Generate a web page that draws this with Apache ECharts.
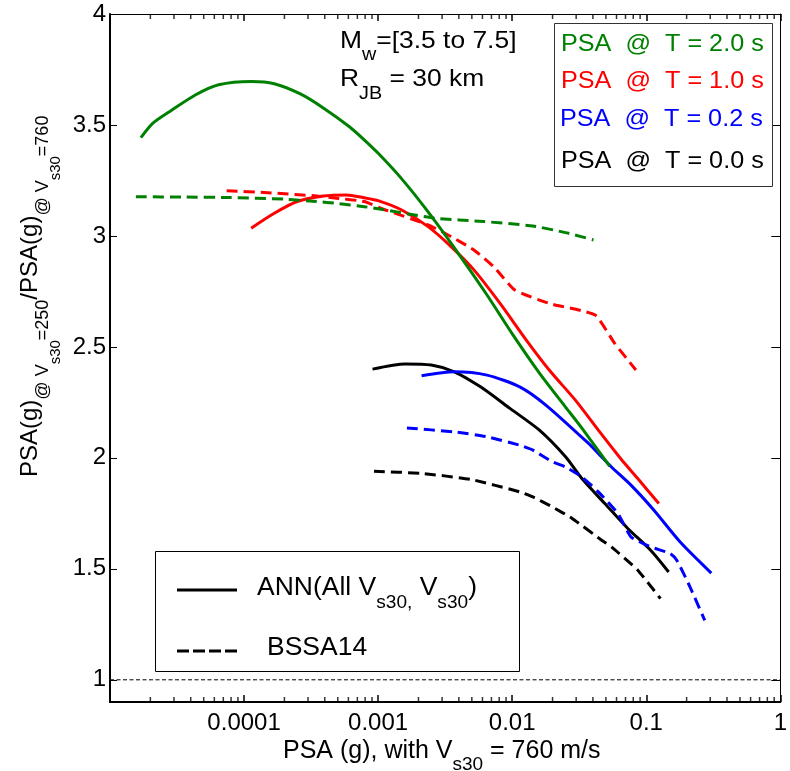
<!DOCTYPE html>
<html><head><meta charset="utf-8">
<script src="https://cdn.jsdelivr.net/npm/echarts@6/dist/echarts.min.js"></script>
<style>html,body{margin:0;padding:0;background:#fff}#c{width:790px;height:771px}</style>
</head><body><div id="c"></div>
<script>
// ---------- data ----------
const xTickValues = [1e-5, 1e-4, 1e-3, 1e-2, 1e-1, 1];
const xTickLabels = ['', '0.0001', '0.001', '0.01', '0.1', '1'];
const xMinorTicks = [2e-5,3e-5,4e-5,5e-5,6e-5,7e-5,8e-5,9e-5,
  2e-4,3e-4,4e-4,5e-4,6e-4,7e-4,8e-4,9e-4,
  2e-3,3e-3,4e-3,5e-3,6e-3,7e-3,8e-3,9e-3,
  0.02,0.03,0.04,0.05,0.06,0.07,0.08,0.09,
  0.2,0.3,0.4,0.5,0.6,0.7,0.8,0.9];
const yTicks = [1, 1.5, 2, 2.5, 3, 3.5, 4];
const refLine = [[1e-5, 1], [1, 1]];

// ANN (solid)
const ann_T20 = [[1.70e-5,3.443],[2.09e-5,3.508],[2.86e-5,3.565],[4.36e-5,3.636],[6.46e-5,3.681],[1.13e-4,3.696],
  [1.68e-4,3.686],[2.63e-4,3.640],[3.90e-4,3.577],[6.11e-4,3.492],[7.87e-4,3.433],[1.01e-3,3.370],[1.50e-3,3.257],
  [2.36e-3,3.108],[4.14e-3,2.905],[6.49e-3,2.734],[0.01016,2.553],[0.01596,2.382],[0.0250,2.229],[0.0331,2.134],[0.0533,1.963]];
const ann_T10 = [[1.13e-4,3.035],[1.68e-4,3.102],[2.49e-4,3.155],[3.90e-4,3.180],[5.78e-4,3.185],[7.87e-4,3.172],
  [1.01e-3,3.158],[1.50e-3,3.117],[2.36e-3,3.042],[3.50e-3,2.952],[5.18e-3,2.847],[8.12e-3,2.696],[0.01274,2.531],
  [0.01888,2.396],[0.0296,2.260],[0.0439,2.125],[0.0650,1.994],[0.0861,1.908],[0.1241,1.794]];
const ann_T02 = [[2.11e-3,2.370],[3.70e-3,2.388],[6.49e-3,2.373],[0.01138,2.320],[0.01782,2.238],[0.0371,2.065],
  [0.0439,2.020],[0.0550,1.959],[0.0769,1.877],[0.1141,1.764],[0.1791,1.621],[0.3055,1.481]];
const ann_T00 = [[9.08e-4,2.400],[1.59e-3,2.423],[2.49e-3,2.418],[3.70e-3,2.388],[5.80e-3,2.320],[9.62e-3,2.223],
  [0.01596,2.125],[0.0250,2.005],[0.0331,1.907],[0.0491,1.794],[0.0728,1.682],[0.1078,1.584],[0.1469,1.486]];
// BSSA14 (dashed)
const bssa_T20 = [[1.56e-5,3.177],[3.68e-5,3.175],[7.64e-5,3.173],[1.99e-4,3.166],[3.48e-4,3.155],[4.89e-4,3.147],
  [7.87e-4,3.132],[1.135e-3,3.117],[2.64e-3,3.080],[6.13e-3,3.065],[0.01426,3.045],[0.0250,3.015],[0.0404,2.982]];
const bssa_T10 = [[7.41e-5,3.204],[1.50e-4,3.195],[3.48e-4,3.180],[4.89e-4,3.170],[7.87e-4,3.155],[1.135e-3,3.117],
  [2.36e-3,3.050],[3.50e-3,2.997],[5.18e-3,2.937],[7.26e-3,2.862],[0.01047,2.756],[0.01888,2.696],[0.0415,2.644],
  [0.0581,2.516],[0.0837,2.396]];
const bssa_T02 = [[1.64e-3,2.135],[3.70e-3,2.117],[6.49e-3,2.095],[0.01138,2.057],[0.01426,2.035],[0.01995,1.982],
  [0.0250,1.959],[0.0331,1.914],[0.0439,1.847],[0.0615,1.749],[0.0769,1.644],[0.1078,1.599],[0.1510,1.569],
  [0.1694,1.538],[0.2122,1.418],[0.2731,1.268]];
const bssa_T00 = [[9.31e-4,1.940],[2.11e-3,1.930],[4.90e-3,1.903],[0.01138,1.847],[0.01426,1.824],[0.01995,1.779],
  [0.0280,1.727],[0.0465,1.629],[0.0550,1.599],[0.0861,1.495],[0.1276,1.366]];

// ---------- helpers ----------
const FONT = '"Liberation Sans", Arial, Helvetica, sans-serif';
const mctx = document.createElement('canvas').getContext('2d');
function tw(t, s) { mctx.font = s + 'px ' + FONT; return mctx.measureText(t).width; }
function run(parts, x0, base, color, sc) {
  sc = sc || 1; let x = x0; const out = [];
  for (const [t, s, dy] of parts) {
    out.push({type: 'text', x: x, y: base + dy - 0.35 * s, scaleX: sc, silent: true, z: 20,
      style: {text: t, fontSize: s, fontFamily: FONT, fill: color, align: 'left', verticalAlign: 'middle'}});
    x += tw(t, s) * sc;
  }
  return out;
}

const GREEN = '#008000', RED = '#ff0000', BLUE = '#0000ff', BLACK = '#000000';
const DASH = [11, 6];
function lineSeries(name, data, color, dashed) {
  return {name: name, type: 'line', data: data, symbol: 'none', smooth: dashed ? 0.15 : 0.25, animation: false,
    lineStyle: {color: color, width: 3, type: dashed ? DASH : 'solid', cap: 'butt', join: 'round'}, z: 3};
}

const chart = echarts.init(document.getElementById('c'), null, {renderer: 'canvas'});
const yMin = 0.9, yMax = 4;

const graphics = [];
// y-axis title (rotated)
graphics.push({type: 'group', x: 0, y: 477, rotation: Math.PI / 2, children: run([
  ['PSA(g)', 24, 0], ['@ V', 18, 10], ['s30', 15, 22], ['=250', 18, 10],
  ['/PSA(g)', 24, 0], ['@ V', 18, 10], ['s30', 15, 22], ['=760', 18, 10]], 0, 39, BLACK, 1)});
// x-axis title
graphics.push(...run([['PSA (g), with V', 25, 0], ['s30', 19, 11], [' = 760 m/s', 25, 0]], 283, 760, BLACK, 1));
// annotations
graphics.push(...run([['M', 24, 0], ['w', 18, 11], ['=[3.5 to 7.5]', 24, 0]], 340, 50, BLACK, 1.1));
graphics.push(...run([['R', 24, 0], ['JB', 18, 12], [' = 30 km', 24, 0]], 340, 88, BLACK, 1.1));
// legend: periods
graphics.push({type: 'rect', z: 15, silent: true, shape: {x: 554.5, y: 23.5, width: 218, height: 163},
  style: {fill: '#fff', stroke: '#333', lineWidth: 1}});
graphics.push(...run([['PSA  @  T = 2.0 s', 24, 0]], 561, 53, GREEN, 1.05));
graphics.push(...run([['PSA  @  T = 1.0 s', 24, 0]], 561, 90, RED, 1.05));
graphics.push(...run([['PSA  @  T = 0.2 s', 24, 0]], 560, 128, BLUE, 1.05));
graphics.push(...run([['PSA  @  T = 0.0 s', 24, 0]], 561, 170, BLACK, 1.05));
// legend: models
graphics.push({type: 'rect', z: 15, silent: true, shape: {x: 155.5, y: 551.5, width: 364, height: 120},
  style: {fill: '#fff', stroke: '#000', lineWidth: 1}});
graphics.push({type: 'line', z: 20, silent: true, shape: {x1: 177, y1: 590, x2: 237, y2: 590},
  style: {stroke: '#000', lineWidth: 3}});
graphics.push({type: 'line', z: 20, silent: true, shape: {x1: 177, y1: 651, x2: 237, y2: 651},
  style: {stroke: '#000', lineWidth: 3, lineDash: [12, 4]}});
graphics.push(...run([['ANN(All V', 25, 0], ['s30', 18, 12], [',', 18, 12], [' V', 25, 0], ['s30', 18, 12], [')', 25, 0]], 257, 597, BLACK, 1.06));
graphics.push(...run([['BSSA14', 25, 0]], 267, 657, BLACK, 1.06));

function xLabel(v) {
  const i = xTickValues.findIndex(t => Math.abs(Math.log10(t) - Math.log10(v)) < 1e-6);
  return i >= 0 ? xTickLabels[i] : '';
}

function minorTickSeries(yVal, offset) {
  return {name: 'minor' + yVal, type: 'scatter', data: xMinorTicks.map(v => [v, yVal]), silent: true, clip: false,
    animation: false, symbol: 'rect', symbolSize: [1.5, 5], symbolOffset: [0, offset], z: 6,
    itemStyle: {color: '#000'}};
}

const option = {
  animation: false,
  backgroundColor: '#fff',
  grid: {left: 110, top: 14, width: 682, height: 688, containLabel: false},
  xAxis: [
    {type: 'log', logBase: 10, min: 1e-5, max: 1, position: 'bottom',
     axisLine: {show: true, onZero: false, lineStyle: {color: '#000', width: 2}},
     axisTick: {show: true, inside: true, length: 7, lineStyle: {color: '#000', width: 1.5}},
     axisLabel: {show: true, formatter: xLabel, color: '#000', fontSize: 24, fontFamily: FONT, margin: 9, showMinLabel: true, showMaxLabel: true},
     splitLine: {show: false}, minorTick: {show: false}},
    {type: 'log', logBase: 10, min: 1e-5, max: 1, position: 'top',
     axisLine: {show: true, onZero: false, lineStyle: {color: '#000', width: 1}},
     axisTick: {show: true, inside: true, length: 7, lineStyle: {color: '#000', width: 1.5}},
     axisLabel: {show: false}, splitLine: {show: false}}
  ],
  yAxis: [
    {type: 'value', min: yMin, max: yMax, position: 'left',
     axisLine: {show: true, onZero: false, lineStyle: {color: '#000', width: 2}},
     axisTick: {show: true, inside: true, length: 7, customValues: yTicks, lineStyle: {color: '#000', width: 1}},
     axisLabel: {show: true, customValues: yTicks, color: '#000', fontSize: 24, fontFamily: FONT, margin: 4},
     splitLine: {show: false}},
    {type: 'value', min: yMin, max: yMax, position: 'right',
     axisLine: {show: true, onZero: false, lineStyle: {color: '#000', width: 1}},
     axisTick: {show: true, inside: true, length: 9, customValues: yTicks, lineStyle: {color: '#000', width: 1}},
     axisLabel: {show: false}, splitLine: {show: false}}
  ],
  series: [
    {name: 'ref', type: 'line', data: refLine, symbol: 'none', animation: false, z: 2,
     lineStyle: {color: '#000', width: 1, type: [4, 2.5]}},
    lineSeries('BSSA14 T=0.0', bssa_T00, BLACK, true),
    lineSeries('ANN T=0.0', ann_T00, BLACK, false),
    lineSeries('ANN T=0.2', ann_T02, BLUE, false),
    lineSeries('BSSA14 T=0.2', bssa_T02, BLUE, true),
    lineSeries('BSSA14 T=1.0', bssa_T10, RED, true),
    lineSeries('ANN T=1.0', ann_T10, RED, false),
    lineSeries('BSSA14 T=2.0', bssa_T20, GREEN, true),
    lineSeries('ANN T=2.0', ann_T20, GREEN, false),
    minorTickSeries(yMax, 2.5),
    minorTickSeries(yMin, -2.5)
  ],
  graphic: graphics
};
chart.setOption(option);
</script>
</body></html>
